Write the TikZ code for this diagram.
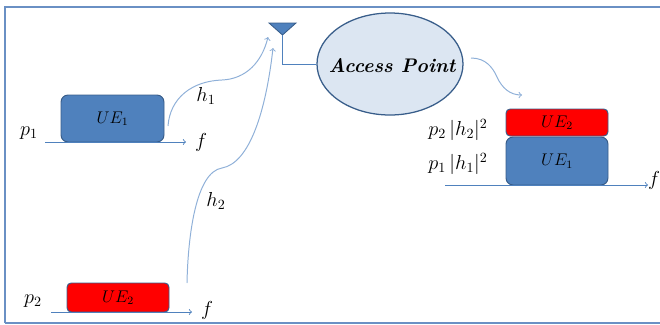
\documentclass[tikz,border=0pt]{standalone}
\usetikzlibrary{shapes.geometric}

\definecolor{uiblue}{HTML}{4F81BD}
\definecolor{uiedge}{HTML}{385D8A}
\definecolor{uipale}{HTML}{DCE6F2}
\definecolor{uiframe}{HTML}{6A90C4}
\definecolor{uiwire}{HTML}{8FB0D8}

\tikzset{
    ueblue/.style={draw=uiedge,line width=.7pt,fill=uiblue,rounded corners=5pt,inner sep=0pt},
    uered/.style={draw=uiedge,line width=.7pt,fill=red,rounded corners=3pt,inner sep=0pt},
    axisline/.style={draw=uiblue,line width=.6pt,->},
    wave/.style={draw=uiwire,line width=.7pt,->},
    lbl/.style={inner sep=0pt,font=\large},
    big/.style={inner sep=0pt,font=\Large}
}

\begin{document}
\begin{tikzpicture}[x=.025cm,y=-.025cm]
            \useasboundingbox (0,0) rectangle (660,324);
            \draw[uiframe,line width=1pt] (5,323) -- (5,7) -- (660,7);
            \draw[uiframe,line width=1pt] (5,323) -- (660,323);
            % left side
            \node[ueblue,minimum width=103*.025cm,minimum height=47*.025cm] (ueone) at (112.5,118.5) {};
            \node[lbl] at (ueone) {\(UE_1\)};
            \node[uered,minimum width=102*.025cm,minimum height=29*.025cm] (uetwo) at (118,297.5) {};
            \node[lbl] at (uetwo) {\(UE_2\)};
            \coordinate (axisonea) at (45,142);
            \coordinate (axisoneb) at (186,142);
            \coordinate (axistwoa) at (51,312);
            \coordinate (axistwob) at (192,312);
            \draw[axisline] (axisonea) -- (axisoneb);
            \draw[axisline] (axistwoa) -- (axistwob);
            \node[big] (fone) at (201,142) {\(f\)};
            \node[big] (ftwo) at (207,310) {\(f\)};
            \node[big] (pone) at (29,133) {\(p_1\)};
            \node[big] (ptwo) at (33,301) {\(p_2\)};
            \node[big] (hone) at (206,96) {\(h_1\)};
            \node[big] (htwo) at (216,201) {\(h_2\)};
            % access point and antenna
            \node[draw=uiedge,line width=.9pt,fill=uipale,ellipse,minimum width=146*.025cm,minimum height=102*.025cm,inner sep=0pt] (ap) at (390,64) {};
            \node[inner sep=0pt,font=\fontsize{14}{16}\selectfont\bfseries\itshape] at (392,66) {Access Point};
            \coordinate (antl) at (269,23);
            \coordinate (antr) at (296,23);
            \coordinate (anttip) at (282.5,35);
            \draw[draw=uiedge,fill=uiblue,line width=.6pt] (antl) -- (antr) -- (anttip) -- cycle;
            \draw[uiblue,line width=.7pt] (anttip) |- (ap.west);
            % channels
            \coordinate (waveonea) at (168,126);
            \coordinate (waveoneb) at (268,37);
            \coordinate (wavetwoa) at (187,283);
            \coordinate (wavetwob) at (273,48);
            \draw[wave] (waveonea) .. controls (170,98) and (192,81) .. (222,80) .. controls (246,79) and (262,62) .. (waveoneb);
            \draw[wave] (wavetwoa) .. controls (188,235) and (196,172) .. (222,168) .. controls (250,163) and (266,110) .. (wavetwob);
            % received side
            \node[ueblue,minimum width=102*.025cm,minimum height=48*.025cm] (rxone) at (557,161) {};
            \node[lbl] at (rxone) {\(UE_1\)};
            \node[uered,minimum width=102*.025cm,minimum height=27*.025cm] (rxtwo) at (557,122.5) {};
            \node[lbl] at (rxtwo) {\(UE_2\)};
            \coordinate (axisrxa) at (445,185);
            \coordinate (axisrxb) at (648,185);
            \draw[axisline] (axisrxa) -- (axisrxb);
            \node[big] (frx) at (654,180) {\(f\)};
            \node[big] (prxtwo) at (458,130) {\(p_2\,|h_2|^2\)};
            \node[big] (prxone) at (458,164) {\(p_1\,|h_1|^2\)};
            \coordinate (downa) at (471,58);
            \coordinate (downb) at (522,95);
            \draw[wave] (downa) .. controls (486,58) and (493,68) .. (497,77) .. controls (502,88) and (510,95) .. (downb);
        \end{tikzpicture}
\end{document}
